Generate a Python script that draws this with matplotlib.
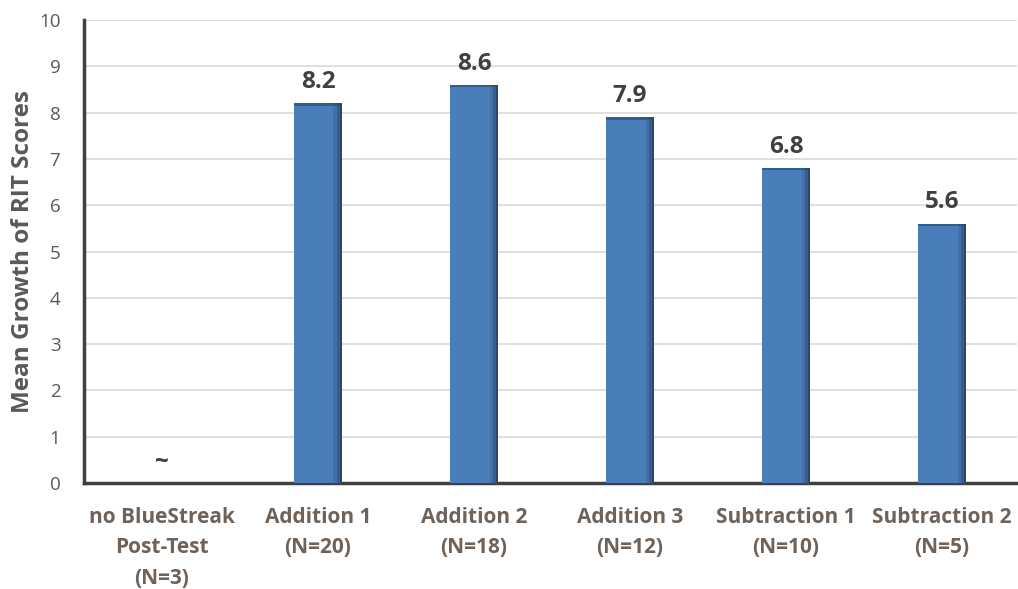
import matplotlib
matplotlib.use("Agg")
import matplotlib.pyplot as plt
import numpy as np

plt.rcParams['font.family'] = ['Open Sans', 'DejaVu Sans']

categories = ["no BlueStreak\nPost-Test\n(N=3)", "Addition 1\n(N=20)", "Addition 2\n(N=18)",
              "Addition 3\n(N=12)", "Subtraction 1\n(N=10)", "Subtraction 2\n(N=5)"]
values = [0.0, 8.2, 8.6, 7.9, 6.8, 5.6]
value_labels = ["~", "8.2", "8.6", "7.9", "6.8", "5.6"]
yticks = list(range(0, 11))

fig = plt.figure(figsize=(10.18, 5.89), dpi=100)
ax = fig.add_axes([0.0825, 0.18, 0.9165, 0.786])

x = np.arange(len(categories))
width = 0.31
bar_color = "#4a7ebb"

ax.bar(x, values, width=width, color=bar_color, zorder=3, linewidth=0)
# darker shading along the right side and top of each bar
shade_steps = [(0.18, 0.18), (0.11, 0.3), (0.05, 0.5)]
for frac, alpha in shade_steps:
    w = width * frac
    ax.bar(x + width / 2 - w / 2, values, width=w, color="#1f3550", alpha=alpha,
           zorder=4, linewidth=0)
top_band = 0.05
ax.bar(x, [top_band if v > 0 else 0 for v in values], bottom=[v - top_band for v in values],
       width=width, color="#2a4567", alpha=0.6, zorder=4, linewidth=0)

for xi, v, lab in zip(x, values, value_labels):
    ax.text(xi, v + 0.2, lab, ha="center", va="bottom", fontsize=17.5,
            fontweight="bold", color="#404040", zorder=5)

ax.set_xlim(-0.5, 5.48)
ax.set_ylim(0, 10)
ax.set_yticks(yticks)
ax.set_yticklabels([str(t) for t in yticks], fontsize=13.5, color="#595959")
ax.set_xticks(x)
ax.set_xticklabels(categories, fontsize=15, fontweight="bold", color="#6e6259",
                   linespacing=1.6, va="top")
ax.tick_params(axis="both", length=0)
ax.tick_params(axis="x", pad=17)
ax.tick_params(axis="y", pad=17)

ax.grid(axis="y", color="#d9d9d9", linewidth=1.2, zorder=0)
ax.set_axisbelow(True)
for side in ["top", "right"]:
    ax.spines[side].set_visible(False)
for side in ["left", "bottom"]:
    ax.spines[side].set_color("#404040")
    ax.spines[side].set_linewidth(2.5)

ax.set_ylabel("Mean Growth of RIT Scores", fontsize=17.5, fontweight="bold",
              color="#595959", labelpad=3)

fig.savefig("out.png", dpi=100)
